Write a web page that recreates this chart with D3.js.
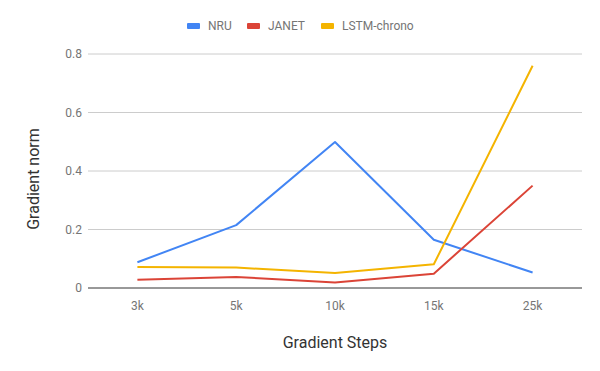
<!DOCTYPE html>
<html>
<head>
<meta charset="utf-8">
<script src="https://cdn.jsdelivr.net/npm/d3@7"></script>
<style>
  body { margin: 0; background: #fff; }
  text { font-family: Roboto, sans-serif; }
</style>
</head>
<body>
<script>
var width = 600,
    height = 371;

// data
var steps = ["3k", "5k", "10k", "15k", "25k"];
var nru = [0.088, 0.215, 0.499, 0.165, 0.053];
var janet = [0.028, 0.038, 0.019, 0.049, 0.35];
var lstmChrono = [0.072, 0.07, 0.051, 0.081, 0.76];
var yTicks = [0, 0.2, 0.4, 0.6, 0.8];

var series = [
  { name: "NRU", values: nru, color: "#4285f4" },
  { name: "JANET", values: janet, color: "#db4437" },
  { name: "LSTM-chrono", values: lstmChrono, color: "#f4b400" }
];

var margin = { left: 88, right: 18, top: 54, bottom: 83 };

var svg = d3.select("body").append("svg").attr("width", width).attr("height", height);

var x = d3.scalePoint().domain(steps).range([margin.left, width - margin.right]).padding(0.5);
var y = d3.scaleLinear().domain([0, 0.8]).range([height - margin.bottom, margin.top]);

// gridlines
svg.append("g").selectAll("line")
    .data(yTicks.slice(1))
  .enter().append("line")
    .attr("x1", margin.left).attr("x2", width - margin.right)
    .attr("y1", function(d){ return y(d); }).attr("y2", function(d){ return y(d); })
    .attr("stroke", "#cccccc").attr("stroke-width", 1);

// y tick labels
svg.append("g").selectAll("text")
    .data(yTicks)
  .enter().append("text")
    .attr("x", margin.left - 6)
    .attr("y", function(d){ return y(d); })
    .attr("dy", "0.35em")
    .attr("text-anchor", "end")
    .attr("font-size", 12)
    .attr("fill", "#757575")
    .text(function(d){ return d === 0 ? "0" : d3.format(".1f")(d); });

// x tick labels
svg.append("g").selectAll("text")
    .data(steps)
  .enter().append("text")
    .attr("x", function(d){ return x(d); })
    .attr("y", height - margin.bottom + 18)
    .attr("dy", "0.35em")
    .attr("text-anchor", "middle")
    .attr("font-size", 12)
    .attr("fill", "#757575")
    .text(function(d){ return d; });

// lines
var line = d3.line()
    .x(function(d, i){ return x(steps[i]); })
    .y(function(d){ return y(d); });

svg.append("g").selectAll("path")
    .data(series)
  .enter().append("path")
    .attr("d", function(d){ return line(d.values); })
    .attr("fill", "none")
    .attr("stroke", function(d){ return d.color; })
    .attr("stroke-width", 2)
    .attr("stroke-linejoin", "round");

// baseline
svg.append("line")
    .attr("x1", margin.left).attr("x2", width - margin.right)
    .attr("y1", y(0)).attr("y2", y(0))
    .attr("stroke", "#333333").attr("stroke-width", 1);

// axis titles
svg.append("text")
    .attr("x", (margin.left + width - margin.right) / 2)
    .attr("y", 348)
    .attr("text-anchor", "middle")
    .attr("font-size", 16)
    .attr("fill", "#333333")
    .text("Gradient Steps");

svg.append("text")
    .attr("transform", "translate(39,179) rotate(-90)")
    .attr("text-anchor", "middle")
    .attr("font-size", 16)
    .attr("fill", "#333333")
    .text("Gradient norm");

// legend
var legendX = [187, 247, 321];
var legend = svg.append("g").selectAll("g")
    .data(series)
  .enter().append("g")
    .attr("transform", function(d, i){ return "translate(" + legendX[i] + ",26)"; });

legend.append("rect")
    .attr("x", 0).attr("y", -3)
    .attr("width", 13).attr("height", 6)
    .attr("rx", 1)
    .attr("fill", function(d){ return d.color; });

legend.append("text")
    .attr("x", 21)
    .attr("dy", "0.35em")
    .attr("font-size", 12)
    .attr("fill", "#757575")
    .text(function(d){ return d.name; });
</script>
</body>
</html>
